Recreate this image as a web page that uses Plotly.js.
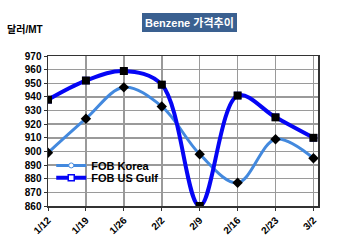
<!DOCTYPE html>
<html><head><meta charset="utf-8">
<script src="https://cdn.plot.ly/plotly-3.0.1.min.js"></script>
<style>html,body{margin:0;padding:0;background:#fff}#c{width:350px;height:246px}</style>
</head><body><div id="c"></div>
<script>
const dates = ['1/12','1/19','1/26','2/2','2/9','2/16','2/23','3/2'];
const korea = [899, 924, 947, 933, 898, 877, 909, 895];
const gulf = [938, 952, 959, 949, 860, 941, 925, 910];
const yTicks = [860,870,880,890,900,910,920,930,940,950,960,970];

const FONT = 'Liberation Sans, Arial, Noto Sans CJK KR, sans-serif';
const xIdx = dates.map((d,i)=>i);
const legFont = {family: FONT, size: 11, color: '#000', weight: 'bold'};

const traces = [
  {x: xIdx, y: korea, name: 'FOB Korea', type: 'scatter', mode: 'lines+markers', legend: 'legend',
   line: {color: '#4389de', width: 3, shape: 'spline', smoothing: 1},
   marker: {symbol: 'circle', size: 5, color: '#ffffff', line: {color: '#4389de', width: 1}}},
  {x: xIdx, y: gulf, name: 'FOB US Gulf', type: 'scatter', mode: 'lines+markers', legend: 'legend2',
   line: {color: '#0505f5', width: 4, shape: 'spline', smoothing: 1},
   marker: {symbol: 'square', size: 6, color: '#ffffff', line: {color: '#0505f5', width: 1.5}}},
  {x: xIdx, y: korea, showlegend: false, type: 'scatter', mode: 'markers',
   marker: {symbol: 'diamond', size: 8, color: '#000000'}, hoverinfo: 'skip'},
  {x: xIdx, y: gulf, showlegend: false, type: 'scatter', mode: 'markers',
   marker: {symbol: 'square', size: 8, color: '#000000'}, hoverinfo: 'skip'}
];

const layout = {
  width: 350, height: 246,
  margin: {l: 48, r: 32, t: 56, b: 40, pad: 0},
  paper_bgcolor: '#ffffff', plot_bgcolor: '#ffffff',
  font: {family: FONT, size: 10, color: '#000'},
  showlegend: true,
  legend: {x: 0.012, y: 0.367, xanchor: 'left', yanchor: 'top', bgcolor: 'rgba(0,0,0,0)',
           font: legFont, itemwidth: 30},
  legend2: {x: 0.012, y: 0.285, xanchor: 'left', yanchor: 'top', bgcolor: 'rgba(0,0,0,0)',
           font: legFont, itemwidth: 30},
  xaxis: {range: [0, 7.12], tickmode: 'array', tickvals: xIdx, ticktext: dates,
          tickangle: -45, showgrid: true, gridcolor: '#9a9a9a', gridwidth: 1.5,
          showline: true, linecolor: '#333', linewidth: 1.5, mirror: true,
          ticks: 'outside', ticklen: 3, tickcolor: '#333', zeroline: false,
          tickfont: {family: FONT, size: 10, color: '#000', weight: 'bold'}},
  yaxis: {range: [860, 970], tickmode: 'array', tickvals: yTicks,
          showgrid: true, gridcolor: '#9a9a9a', gridwidth: 1.5,
          showline: true, linecolor: '#333', linewidth: 1.5, mirror: true,
          ticks: 'outside', ticklen: 3, tickcolor: '#333', zeroline: false,
          tickfont: {family: FONT, size: 10, color: '#000', weight: 'bold'}},
  annotations: [
    {text: 'Benzene 가격추이', xref: 'paper', yref: 'paper', x: 0.525, y: 1.0,
     yshift: 24, xanchor: 'center', yanchor: 'bottom', showarrow: false,
     font: {family: FONT, size: 11, color: '#ffffff', weight: 'bold'},
     bgcolor: '#3a6090', borderpad: 3, borderwidth: 0},
    {text: '달러/MT', xref: 'paper', yref: 'paper', x: -0.16, y: 1.0,
     yshift: 19, xanchor: 'left', yanchor: 'bottom', showarrow: false,
     font: {family: FONT, size: 10, color: '#000', weight: 'bold'}}
  ]
};
Plotly.newPlot('c', traces, layout, {staticPlot: true, displayModeBar: false});
</script></body></html>
